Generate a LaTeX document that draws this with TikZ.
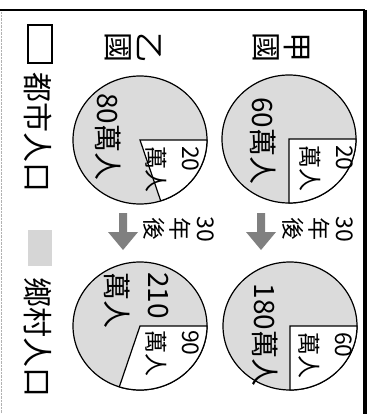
\documentclass[tikz,border=0pt]{standalone}
\usepackage{fontspec}
\setmainfont{Noto Sans CJK TC}
\begin{document}
\begin{tikzpicture}[x=1pt,y=-1pt,
  land/.style={fill=black!14,line width=1.2pt},
  stadt/.style={fill=white,line width=1.2pt},
  gross/.style={rotate=-90,inner sep=0pt,font=\fontsize{28}{42}\selectfont},
  klein/.style={rotate=-90,inner sep=0pt,align=left,anchor=north west,font=\fontsize{23}{35}\selectfont},
  titel/.style={rotate=-90,inner sep=0pt,align=center,font=\fontsize{30}{31}\selectfont},
  zeit/.style={rotate=-90,inner sep=0pt,align=center,font=\fontsize{23}{26}\selectfont},
  pfeil/.style={fill=black!50}]
  \useasboundingbox (0,0) rectangle (372,414);
  % Rahmen
  \draw[line width=1.5pt] (0,10) -- (365,10);
  \draw[line width=3.5pt] (365,10) -- (365,414);
  \draw[black!30,densely dotted] (1.5,12) -- (1.5,414);
  % Kreise mit Anteil Stadt
  \foreach \cx/\cy/\w in {289/139/90, 290/326/90, 140/140/72, 140/326/108}{
    \filldraw[land] (\cx,\cy) ellipse [x radius=67, y radius=64];
    \filldraw[stadt] (\cx,\cy) -- ++(67,0)
      arc [start angle=0, end angle=\w, x radius=67, y radius=64] -- cycle;
  }
  % Zahlen Land A
  \node[gross] (jia1) at (263,141) {60萬人};
  \node[klein] (jia1s) at (353,145) {20\\萬人};
  \node[gross] (jia2) at (265,335) {180萬人};
  \node[klein] (jia2s) at (352,332) {60\\萬人};
  % Zahlen Land B
  \node[gross] (yi1) at (108,137) {80萬人};
  \node[klein] (yi1s) at (199,146) {20\\萬人};
  \node[gross,align=left,anchor=north west] (yi2) at (169,272) {210\\萬人};
  \node[klein] (yi2s) at (199,330) {90\\萬人};
  % Titel
  \node[titel] (jia) at (281,48) {甲\\國};
  \node[titel] (yi) at (133,48) {乙\\國};
  % Pfeile
  \foreach \x in {261,123}
    \fill[pfeil] (\x-4,213) -- ++(8,0) -- ++(0,19) -- ++(11,0) -- (\x,250)
      -- ++(-15,-18) -- ++(11,0) -- cycle;
  \node[zeit] (jiat) at (318,229) {30\\年\\後};
  \node[zeit] (yit) at (179,229) {30\\年\\後};
  % Legende
  \draw[line width=1.5pt,fill=white] (28,25) rectangle (52,63);
  \node[gross,font=\fontsize{30}{36}\selectfont] (stadtt) at (38,133) {都市人口};
  \fill[black!16] (28,230) rectangle (52,266);
  \node[gross,font=\fontsize{30}{36}\selectfont] (landt) at (38,337) {鄉村人口};
\end{tikzpicture}
\end{document}
